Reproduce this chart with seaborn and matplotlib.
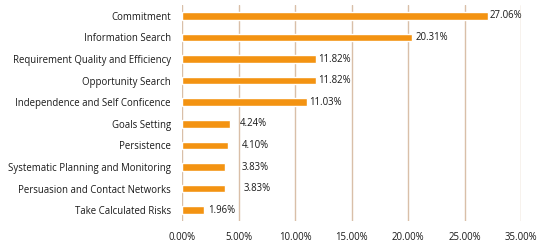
import seaborn as sns
import numpy as np
from matplotlib import pyplot as plt
import pandas as pd

categories = [
    'Commitment',
    'Information Search',
    'Requirement Quality and Efficiency',
    'Opportunity Search',
    'Independence and Self Conficence',
    'Goals Setting',
    'Persistence',
    'Systematic Planning and Monitoring',
    'Persuasion and Contact Networks',
    'Take Calculated Risks',
]
values = [27.06, 20.31, 11.82, 11.82, 11.03, 4.24, 4.10, 3.83, 3.83, 1.96]
tick_values = [0, 5, 10, 15, 20, 25, 30]
tick_labels = ['0.00%', '5.00%', '10.00%', '15.00%', '20.00%', '25.00%', '35.00%']
# label offsets in points (labels were nudged by hand in the original)
label_pad = [1, 3, 2, 2, 2, 7, 10, 12, 13, 3]

bar_color = '#f39312'
grid_color = '#d9bfa8'

sns.set_theme(style="white")
plt.rcParams['font.family'] = ['Open Sans', 'DejaVu Sans']

df = pd.DataFrame({'competence': categories, 'share': values})

fig = plt.figure(figsize=(5.47, 2.45), dpi=100)
ax = fig.add_axes([182 / 547, 24 / 245, (521 - 182) / 547, 216 / 245])

sns.barplot(data=df, y='competence', x='share', color=bar_color, width=0.35,
            saturation=1, ax=ax, zorder=3)

for bar, v, p in zip(ax.containers[0], values, label_pad):
    ax.annotate(f'{v:.2f}%', (bar.get_width(), bar.get_y() + bar.get_height() / 2),
                xytext=(p, 0), textcoords='offset points', va='center', ha='left',
                fontsize=6.9, color='#1a1a1a')

ax.set_xlim(0, 30)
ax.set_ylim(9.5, -0.5)
ax.set_xticks(tick_values)
ax.set_xticklabels(tick_labels)
ax.xaxis.grid(True, color=grid_color, linewidth=1.0, zorder=0)
ax.set_axisbelow(True)
ax.tick_params(axis='x', labelsize=6.9, colors='#1a1a1a', length=0, pad=8)
ax.tick_params(axis='y', labelsize=6.9, colors='#1a1a1a', length=0, pad=8)
ax.set_xlabel('')
ax.set_ylabel('')
sns.despine(left=True, bottom=True, right=True, top=True)

fig.savefig('out.png', dpi=100)
